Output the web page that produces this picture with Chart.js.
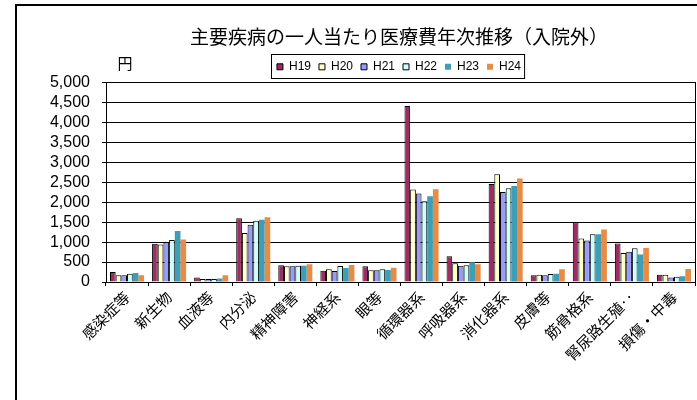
<!DOCTYPE html>
<html>
<head>
<meta charset="utf-8">
<script src="https://cdn.jsdelivr.net/npm/chart.js@4/dist/chart.umd.min.js"></script>
<style>
  html, body { margin: 0; padding: 0; background: #fff; overflow: hidden; }
  #wrap { position: relative; width: 697px; height: 400px; overflow: hidden; }
  #frame { position: absolute; left: 15px; top: 4px; width: 800px; height: 500px;
           border-left: 2px solid #000; border-top: 2px solid #000; }
  #chart { position: absolute; left: 0; top: 0; }
</style>
</head>
<body>
<div id="wrap">
  <div id="frame"></div>
  <canvas id="chart" width="798" height="400"></canvas>
</div>
<script>
const categories = ["感染症等", "新生物", "血液等", "内分泌", "精神障害", "神経系", "眼等",
  "循環器系", "呼吸器系", "消化器系", "皮膚等", "筋骨格系", "腎尿路生殖‥", "損傷・中毒"];

const h19 = [250, 960, 110, 1600, 420, 280, 395, 4420, 645, 2460, 170, 1500, 965, 185];
const h20 = [170, 940, 75, 1230, 395, 320, 295, 2320, 470, 2705, 185, 1095, 725, 185];
const h21 = [170, 995, 75, 1440, 395, 275, 295, 2220, 410, 2260, 170, 1040, 760, 110];
const h22 = [210, 1055, 75, 1535, 410, 400, 320, 2025, 420, 2355, 200, 1200, 845, 130];
const h23 = [225, 1280, 90, 1560, 410, 350, 300, 2150, 495, 2410, 210, 1200, 690, 145];
const h24 = [170, 1065, 170, 1625, 445, 425, 360, 2330, 445, 2595, 320, 1315, 855, 325];

const yUnit = "円";
const cjk = "'Noto Sans CJK JP', 'Noto Sans', sans-serif";
const latin = "'Liberation Sans', Arial, sans-serif";

// legend frame + unit label
const extras = {
  id: "extras",
  afterDraw(chart) {
    const ctx = chart.ctx;
    const boxes = chart.legend.legendHitBoxes;
    if (boxes && boxes.length) {
      let l = Infinity, r = -Infinity, t = Infinity, b = -Infinity;
      for (const h of boxes) {
        l = Math.min(l, h.left); r = Math.max(r, h.left + h.width);
        t = Math.min(t, h.top); b = Math.max(b, h.top + h.height);
      }
      ctx.save();
      ctx.strokeStyle = "#000";
      ctx.lineWidth = 1;
      ctx.strokeRect(Math.round(l) - 5.5, Math.round(t) - 6.5, r - l + 9, b - t + 12);
      ctx.restore();
    }
    const a = chart.chartArea;
    ctx.save();
    ctx.font = "15px " + cjk;
    ctx.fillStyle = "#000";
    ctx.textAlign = "center";
    ctx.textBaseline = "middle";
    ctx.fillText(yUnit, a.left + 19, a.top - 20);
    ctx.restore();
  }
};

function ds(label, data, color, border) {
  return {
    label: label,
    data: data,
    backgroundColor: color,
    borderColor: "#000",
    borderWidth: border ? 1 : 0,
    categoryPercentage: 0.81,
    barPercentage: 1.0
  };
}

new Chart(document.getElementById("chart"), {
  type: "bar",
  data: {
    labels: categories,
    datasets: [
      ds("H19", h19, "#9b2d62", true),
      ds("H20", h20, "#ffffcc", true),
      ds("H21", h21, "#9999ff", true),
      ds("H22", h22, "#ccffff", true),
      ds("H23", h23, "#3f9db5", false),
      ds("H24", h24, "#e88c44", false)
    ]
  },
  options: {
    responsive: false,
    animation: false,
    layout: { padding: { left: 0, right: 0, top: 0, bottom: 0 } },
    plugins: {
      title: {
        display: true,
        text: "主要疾病の一人当たり医療費年次推移（入院外）",
        color: "#000",
        font: { family: cjk, size: 19, weight: "normal" },
        padding: { top: 25, bottom: 5 }
      },
      legend: {
        display: true,
        labels: {
          color: "#000",
          font: { family: latin, size: 12 },
          boxWidth: 6,
          boxHeight: 6,
          padding: 8
        }
      },
      tooltip: { enabled: false }
    },
    scales: {
      x: {
        grid: { display: true, drawOnChartArea: false, color: "#000", tickLength: 4 },
        border: { color: "#000", width: 1 },
        ticks: {
          color: "#000",
          font: { family: cjk, size: 15 },
          minRotation: 45,
          maxRotation: 45,
          autoSkip: false,
          padding: 2
        },
        afterFit(s) { s.height = 118; }
      },
      y: {
        min: 0,
        max: 5000,
        grid: { color: "#000", lineWidth: 1, tickLength: 4 },
        border: { color: "#000", width: 1 },
        ticks: {
          stepSize: 500,
          autoSkip: false,
          color: "#000",
          font: { family: latin, size: 16 },
          padding: 12,
          callback: v => v.toLocaleString("en-US")
        },
        afterFit(s) { s.width = 106; }
      },
      // right edge of the plot frame (canvas is wider so the title centres like the original)
      y2: {
        position: "right",
        grid: { display: false },
        border: { display: true, color: "#000", width: 1 },
        ticks: { display: false },
        afterFit(s) { s.width = 103; }
      }
    }
  },
  plugins: [extras]
});
</script>
</body>
</html>
